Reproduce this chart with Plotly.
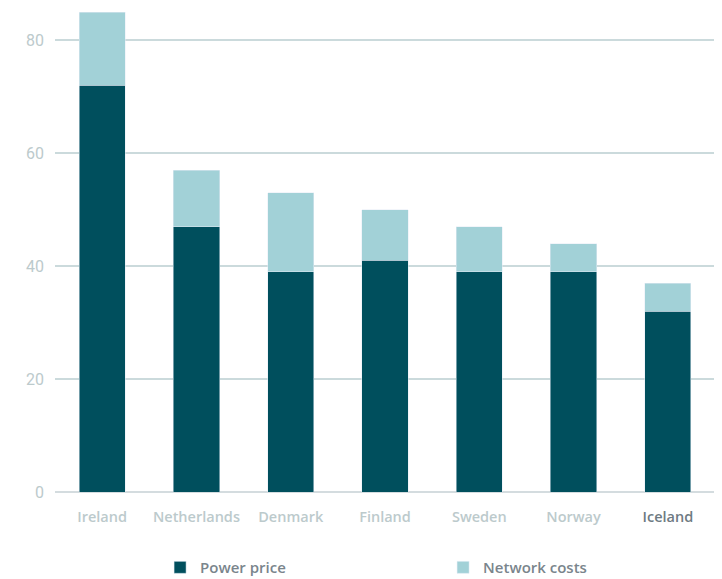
import plotly.graph_objects as go

countries = ["Ireland", "Netherlands", "Denmark", "Finland", "Sweden", "Norway", "Iceland"]
power_price = [72, 47, 39, 41, 39, 39, 32]
network_costs = [13, 10, 14, 9, 8, 5, 5]
y_ticks = [0, 20, 40, 60, 80]

DARK = "#004f5d"
LIGHT = "#a2d1d7"
GRID = "#cbdadc"
TICK = "#bccacc"

fig = go.Figure()
fig.add_trace(go.Bar(x=countries, y=power_price, name="Power price", marker_color=DARK))
fig.add_trace(go.Bar(x=countries, y=network_costs, name="Network costs", marker_color=LIGHT))

tick_text = [
    c if c != "Iceland" else "<span style='color:#6e7a82'>Iceland</span>" for c in countries
]

# page body has an 8px margin, so the figure is drawn 8px smaller
fig.update_layout(
    barmode="stack",
    bargap=0.51,
    width=714,
    height=571,
    margin=dict(l=47, r=7, t=4, b=87),
    paper_bgcolor="white",
    plot_bgcolor="white",
    font=dict(family="Open Sans", size=15, color="#6e7a82"),
    xaxis=dict(
        tickvals=countries,
        ticktext=tick_text,
        tickfont=dict(color=TICK, size=14.5, weight=600),
        showline=False,
        ticks="",
        ticklabelstandoff=14,
    ),
    yaxis=dict(
        range=[0, 85],
        tickvals=y_ticks,
        showgrid=True,
        gridcolor=GRID,
        gridwidth=1.5,
        zeroline=True,
        zerolinecolor="#d4dcdf",
        zerolinewidth=2,
        tickfont=dict(family="Roboto", color=TICK, size=16),
        ticklabelstandoff=10,
    ),
    legend=dict(
        orientation="h",
        traceorder="normal",
        xref="container",
        yref="container",
        x=0.213,
        xanchor="left",
        y=0.02,
        yanchor="middle",
        entrywidth=238,
        entrywidthmode="pixels",
        font=dict(size=15, color="#7a858c", weight=600),
    ),
)

fig.write_html("out.html")
